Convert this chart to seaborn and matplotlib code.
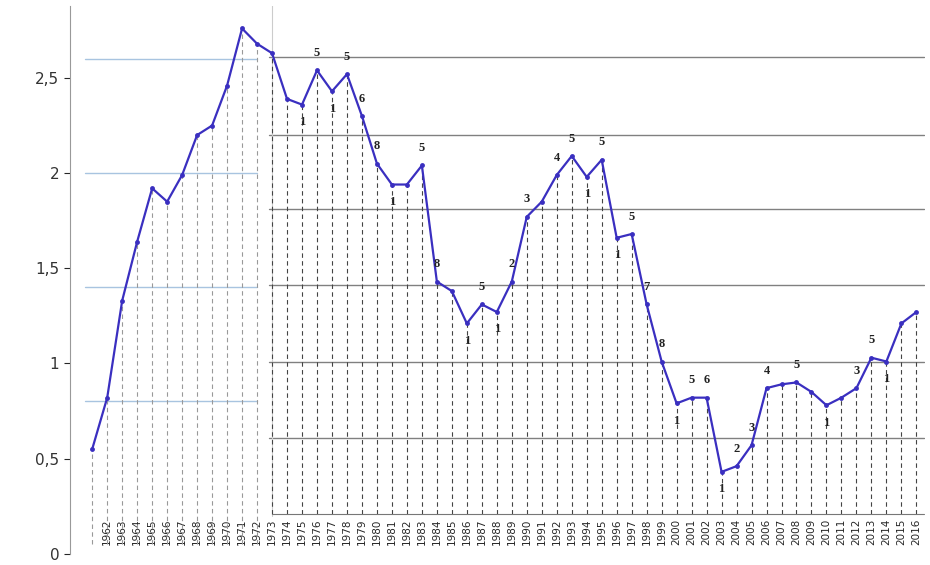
import numpy as np
import pandas as pd
import seaborn as sns
import matplotlib.pyplot as plt

years = list(range(1961, 2017))
values = [0.55, 0.82, 1.33, 1.64, 1.92, 1.85, 1.99, 2.20, 2.25, 2.46, 2.76, 2.68,
          2.63, 2.39, 2.36, 2.54, 2.43, 2.52, 2.30, 2.05, 1.94, 1.94, 2.04, 1.43,
          1.38, 1.21, 1.31, 1.27, 1.43, 1.77, 1.85, 1.99, 2.09, 1.98, 2.07, 1.66,
          1.68, 1.31, 1.01, 0.79, 0.82, 0.82, 0.43, 0.46, 0.57, 0.87, 0.89, 0.90,
          0.85, 0.78, 0.82, 0.87, 1.03, 1.01, 1.21, 1.27]
left_grid = [0.8, 1.4, 2.0, 2.6]
right_grid = [0.61, 1.01, 1.41, 1.81, 2.2, 2.61]
# wave counts (year, label, above?)
waves = [(1975, '1', False), (1976, '5', True), (1977, '1', False), (1978, '5', True),
         (1979, '6', True), (1980, '8', True), (1981, '1', False), (1983, '5', True),
         (1984, '8', True), (1986, '1', False), (1987, '5', True), (1988, '1', False),
         (1989, '2', True), (1990, '3', True), (1992, '4', True), (1993, '5', True),
         (1994, '1', False), (1995, '5', True), (1996, '1', False), (1997, '5', True),
         (1998, '7', True), (1999, '8', True), (2000, '1', False), (2001, '5', True),
         (2002, '6', True), (2003, '1', False), (2004, '2', True), (2005, '3', True),
         (2006, '4', True), (2008, '5', True), (2010, '1', False), (2012, '3', True),
         (2013, '5', True), (2014, '1', False)]

df = pd.DataFrame({'year': years, 'value': values})

sns.set_style("white")
fig, ax = plt.subplots(figsize=(9.3, 5.65), dpi=100)
fig.subplots_adjust(left=0.075, right=0.995, top=0.99, bottom=0.02)

# horizontal guide lines
for g in left_grid:
    ax.plot([1960.5, 1972], [g, g], color='#a8c4e0', lw=1, zorder=0)
for g in right_grid:
    ax.plot([1972.8, 2016.5], [g, g], color='#808080', lw=1, zorder=0)
ax.plot([1973, 1973], [0.2, 2.9], color='#cccccc', lw=0.8, zorder=0)

# dashed drop lines
for yr, v in zip(years, values):
    bottom = 0.05 if yr < 1973 else 0.21
    ax.plot([yr, yr], [bottom, v], color='#999999' if yr < 1973 else '#444444',
            lw=0.8, ls=(0, (4, 3)), zorder=1)
ax.plot([1973, 2016.5], [0.21, 0.21], color='#777777', lw=0.8)

sns.lineplot(data=df, x='year', y='value', ax=ax, color='#3a2fc0', lw=1.6,
             marker='o', markersize=3.5, markeredgewidth=0, zorder=3)

lookup = dict(zip(years, values))
for yr, lab, above in waves:
    v = lookup[yr]
    ax.text(yr, v + (0.06 if above else -0.06), lab, ha='center',
            va='bottom' if above else 'top', fontsize=9, fontweight='bold',
            family='Liberation Serif', color='#222222')

ax.set_xlim(1959.5, 2016.6)
ax.set_ylim(0, 2.88)
ax.set_yticks([0, 0.5, 1, 1.5, 2, 2.5])
ax.set_yticklabels(['0', '0,5', '1', '1,5', '2', '2,5'], fontsize=11, color='#333333')
ax.set_xticks(years[1:])
ax.set_xticklabels([str(y) for y in years[1:]], rotation=90, fontsize=7.5)
ax.tick_params(axis='x', pad=-25, length=0)
ax.tick_params(axis='y', length=4, left=True)
ax.set_xlabel('')
ax.set_ylabel('')
for s in ['top', 'right', 'bottom']:
    ax.spines[s].set_visible(False)
ax.spines['left'].set_color('#999999')

fig.savefig('out.png', dpi=100)
